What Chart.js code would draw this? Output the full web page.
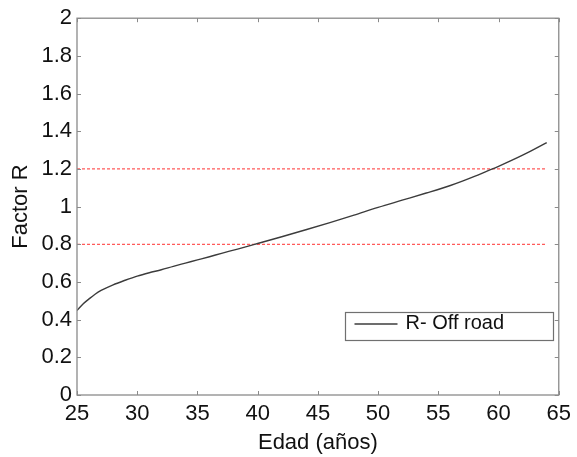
<!DOCTYPE html>
<html>
<head>
<meta charset="utf-8">
<script src="https://cdn.jsdelivr.net/npm/chart.js@4/dist/chart.umd.min.js"></script>
<style>
html,body{margin:0;padding:0;background:#fff;}
#wrap{width:577px;height:457px;}
</style>
</head>
<body>
<div id="wrap"><canvas id="c" width="577" height="457"></canvas></div>
<script>
const ages = [25,25.5,26,26.5,27,28,29,30,31,32,33,34,35,36,37,38,39,40,42,44,46,48,50,52,54,56,57,58,59,60,62,64];
const factorR = [0.449,0.483,0.51,0.535,0.555,0.585,0.609,0.631,0.649,0.665,0.683,0.7,0.717,0.734,0.752,0.769,0.786,0.804,0.84,0.877,0.915,0.955,0.996,1.034,1.072,1.112,1.135,1.16,1.187,1.214,1.273,1.34];
const thresholds = [0.8, 1.2];
const thresholdRange = [25, 64];
const xTicks = [25,30,35,40,45,50,55,60,65];
const yTicks = [0,0.2,0.4,0.6,0.8,1,1.2,1.4,1.6,1.8,2];
const seriesLabel = 'R- Off road';

const FONT = "'Liberation Sans', Arial, sans-serif";
const AXIS = '#8a8a8a';

const datasets = [{
  label: seriesLabel,
  data: ages.map((a,i)=>({x:a,y:factorR[i]})),
  borderColor: '#3c3c3c',
  borderWidth: 1.4,
  pointRadius: 0,
  cubicInterpolationMode: 'monotone',
  fill: false
}];
thresholds.forEach(t=>{
  datasets.push({
    label: '_thr',
    data: thresholdRange.map(a=>({x:a,y:t})),
    borderColor: '#ff5a5a',
    borderWidth: 1.2,
    borderDash: [3,2],
    pointRadius: 0,
    fill: false
  });
});

const framePlugin = {
  id: 'frame',
  afterDraw(chart){
    const ctx = chart.ctx, a = chart.chartArea;
    const xs = chart.scales.x, ys = chart.scales.y;
    ctx.save();
    ctx.strokeStyle = AXIS;
    ctx.lineWidth = 1.3;
    ctx.strokeRect(a.left, a.top, a.right-a.left, a.bottom-a.top);
    ctx.lineWidth = 1;
    const tl = 4;
    ctx.beginPath();
    xTicks.forEach(v=>{
      const p = Math.round(xs.getPixelForValue(v))+0.5;
      ctx.moveTo(p,a.bottom); ctx.lineTo(p,a.bottom-tl);
      ctx.moveTo(p,a.top); ctx.lineTo(p,a.top+tl);
    });
    yTicks.forEach(v=>{
      const p = Math.round(ys.getPixelForValue(v))+0.5;
      ctx.moveTo(a.left,p); ctx.lineTo(a.left+tl,p);
      ctx.moveTo(a.right,p); ctx.lineTo(a.right-tl,p);
    });
    ctx.stroke();
    // legend box
    const bx=345.5, by=312.5, bw=208, bh=28;
    ctx.fillStyle='#fff';
    ctx.fillRect(bx,by,bw,bh);
    ctx.strokeStyle='#707070';
    ctx.lineWidth=1.2;
    ctx.strokeRect(bx,by,bw,bh);
    ctx.strokeStyle='#3c3c3c';
    ctx.lineWidth=1.4;
    ctx.beginPath();
    ctx.moveTo(bx+9,by+11.5); ctx.lineTo(bx+52,by+11.5);
    ctx.stroke();
    ctx.fillStyle='#111';
    ctx.font = "20px " + FONT;
    ctx.textBaseline='middle';
    ctx.textAlign='left';
    ctx.fillText(chart.data.datasets[0].label, bx+60, by+11);
    ctx.restore();
  }
};

new Chart(document.getElementById('c'), {
  type: 'line',
  data: { datasets },
  options: {
    responsive: false,
    animation: false,
    devicePixelRatio: 1,
    layout: { padding: { left: 0, right: 17, top: 16, bottom: 0 } },
    plugins: { legend: { display: false }, tooltip: { enabled: false } },
    scales: {
      x: {
        type: 'linear', min: 25, max: 65,
        afterBuildTicks(s){ s.ticks = xTicks.map(v=>({value:v})); },
        afterFit(s){ s.height = 62; },
        grid: { display: false, drawTicks: false },
        border: { display: false },
        ticks: { color:'#111', font:{ family: FONT, size: 22 }, padding: 6, maxRotation: 0, autoSkip: false },
        title: { display: true, text: 'Edad (años)', color:'#111', font:{ family: FONT, size: 22 }, padding: { top: 0, bottom: 1 } }
      },
      y: {
        type: 'linear', min: 0, max: 2,
        afterBuildTicks(s){ s.ticks = yTicks.map(v=>({value:v})); },
        afterFit(s){ s.width = 77; },
        grid: { display: false, drawTicks: false },
        border: { display: false },
        ticks: { color:'#111', font:{ family: FONT, size: 22 }, padding: 5, autoSkip: false,
          callback: v => String(Math.round(v*10)/10) },
        title: { display: true, text: 'Factor R', color:'#111', font:{ family: FONT, size: 22 }, padding: { top: 8, bottom: 0 } }
      }
    }
  },
  plugins: [framePlugin]
});
</script>
</body>
</html>
